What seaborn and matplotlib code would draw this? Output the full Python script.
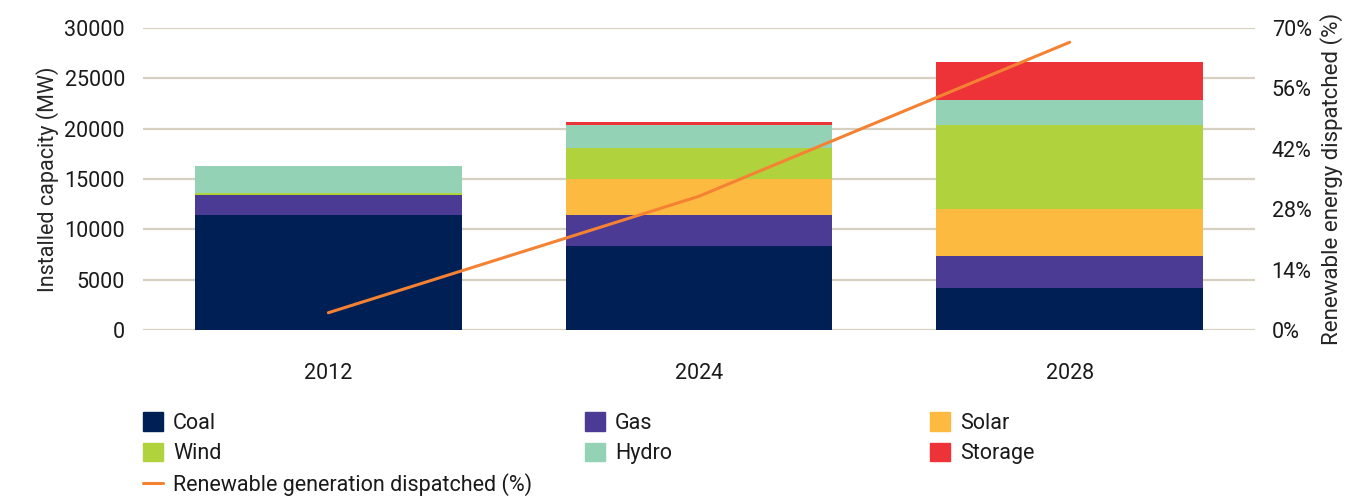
import matplotlib
matplotlib.use("Agg")
import matplotlib.pyplot as plt
from matplotlib.patches import Patch
from matplotlib.lines import Line2D
import numpy as np
import pandas as pd
import seaborn as sns

# Installed capacity by source (MW)
years = ["2012", "2024", "2028"]
coal = [11400, 8300, 4170]
gas = [2050, 3150, 3170]
solar = [0, 3570, 4660]
wind = [120, 3100, 8400]
hydro = [2770, 2250, 2420]
storage = [0, 270, 3770]

# Share of renewable generation dispatched (%)
renewable_pct = [4.0, 31.0, 66.7]

sources = ["Coal", "Gas", "Solar", "Wind", "Hydro", "Storage"]
colors = {
    "Coal": "#001f54",
    "Gas": "#4b3b94",
    "Solar": "#fcba40",
    "Wind": "#b0d23d",
    "Hydro": "#94d2b6",
    "Storage": "#ee3338",
}
line_color = "#f58233"
grid_color = "#d6d0c0"
fs = 15.5

sns.set_theme(style="white")
plt.rcParams["font.family"] = ["Roboto", "DejaVu Sans"]
plt.rcParams["text.color"] = "#1a1a1a"
plt.rcParams["xtick.color"] = "#1a1a1a"
plt.rcParams["ytick.color"] = "#1a1a1a"

df = pd.DataFrame({"year": years, "Coal": coal, "Gas": gas, "Solar": solar,
                   "Wind": wind, "Hydro": hydro, "Storage": storage})
cum = df[sources].cumsum(axis=1)

fig = plt.figure(figsize=(13.45, 5.0), dpi=100)
ax = fig.add_axes([0.1063, 0.34, 0.8268, 0.604])

# Stacked bars: draw cumulative totals from the top layer down
for src in reversed(sources):
    sns.barplot(x=df["year"], y=cum[src], color=colors[src], width=0.72,
                saturation=1, linewidth=0, ax=ax, order=years)

ax.set_ylim(0, 30000)
ax.set_yticks(np.arange(0, 30001, 5000))
ax.yaxis.grid(True, color=grid_color, linewidth=1.6)
ax.set_axisbelow(True)
for s in ax.spines.values():
    s.set_visible(False)
ax.set_xlabel("")
ax.set_ylabel("Installed capacity (MW)", fontsize=fs, labelpad=4)
ax.tick_params(axis="y", labelsize=fs, length=0, pad=13)
ax.tick_params(axis="x", labelsize=fs, length=0, pad=24)
ax.set_xlim(-0.5, 2.5)

# Renewable share on the secondary axis
ax2 = ax.twinx()
sns.lineplot(x=[0, 1, 2], y=renewable_pct, color=line_color, linewidth=2.2,
             ax=ax2, legend=False)
ax2.set_ylim(0, 70)
ax2.set_yticks(np.arange(0, 71, 14))
ax2.set_yticklabels([f"{v}%" for v in range(0, 71, 14)])
ax2.tick_params(axis="y", labelsize=fs, length=0, pad=12)
ax2.set_ylabel("Renewable energy dispatched (%)", fontsize=fs + 0.5, labelpad=6)
ax2.grid(False)
for s in ax2.spines.values():
    s.set_visible(False)
ax.set_xlim(-0.5, 2.5)

# Legend laid out in three columns
leg_kw = dict(frameon=False, fontsize=fs, handlelength=0.95, handleheight=0.95,
              handletextpad=0.45, labelspacing=0.42, borderaxespad=0, borderpad=0,
              loc="upper left")
col1 = [Patch(color=colors["Coal"], label="Coal"),
        Patch(color=colors["Wind"], label="Wind"),
        Line2D([0], [0], color=line_color, linewidth=2.2,
               label="Renewable generation dispatched (%)")]
col2 = [Patch(color=colors["Gas"], label="Gas"),
        Patch(color=colors["Hydro"], label="Hydro")]
col3 = [Patch(color=colors["Solar"], label="Solar"),
        Patch(color=colors["Storage"], label="Storage")]
for handles, xpos in [(col1, 143), (col2, 585), (col3, 930)]:
    fig.legend(handles=handles, bbox_to_anchor=(xpos / 1345, 1 - 412 / 500), **leg_kw)

fig.savefig("out.png", dpi=100)
